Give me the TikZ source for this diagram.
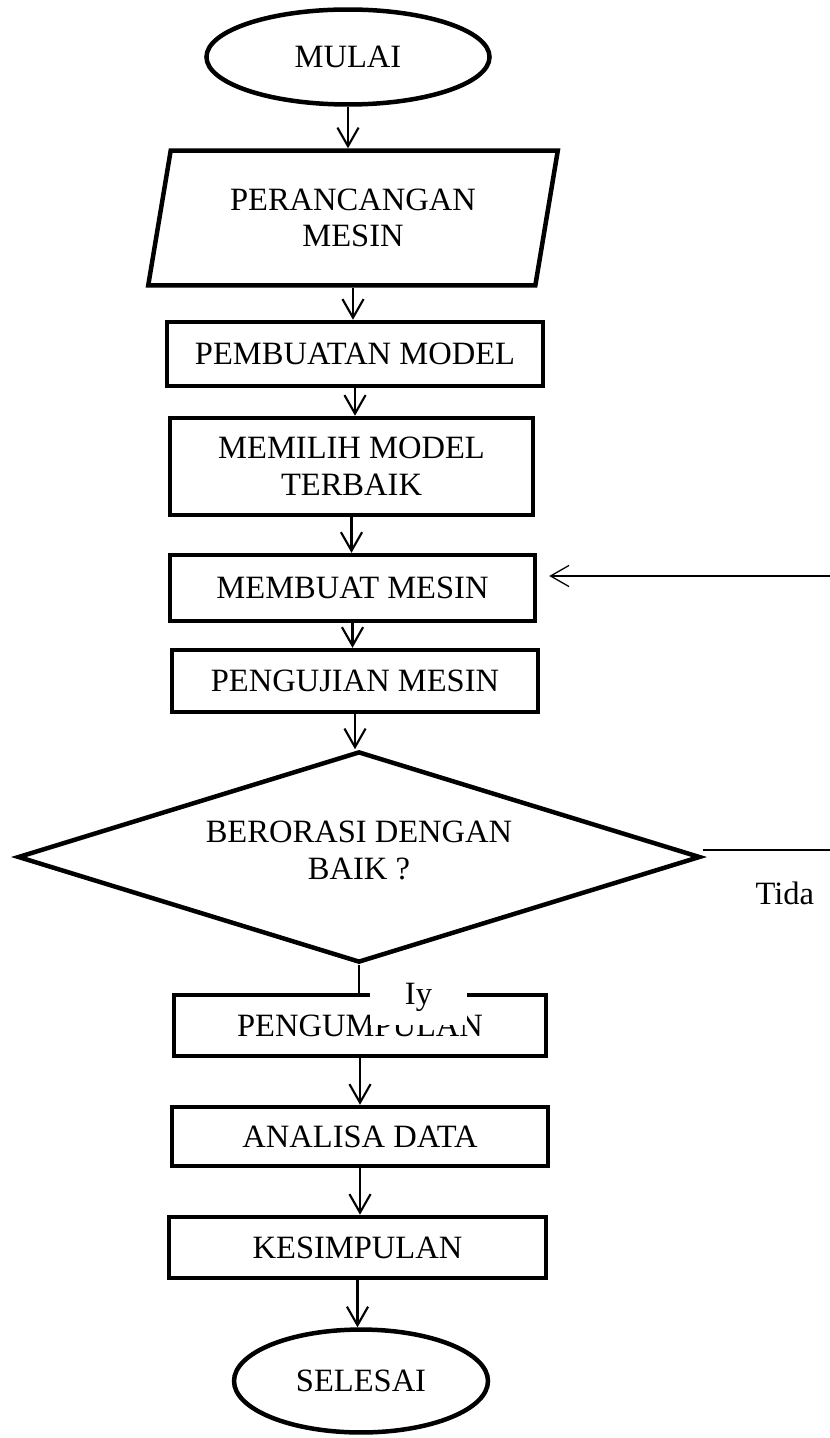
\documentclass[tikz,border=0pt]{standalone}
\usepackage{fontspec}
\setmainfont{Liberation Serif}
\usetikzlibrary{shapes.geometric,arrows.meta}
\begin{document}
\begin{tikzpicture}[
    x=0.378pt, y=-0.378pt,
    font=\fontsize{12.3}{13.9}\selectfont,
    terminal/.style={ellipse, draw, line width=1.7pt, inner sep=0pt},
    inputbox/.style={trapezium, trapezium left angle=75.5, trapezium right angle=104.5,
        trapezium stretches=true, draw, line width=1.7pt, align=center, inner sep=0pt},
    box/.style={rectangle, draw, line width=1.7pt, align=center, inner sep=0pt},
    decision/.style={diamond, aspect=3.23, draw, line width=1.7pt, align=center, inner sep=0pt},
    arrow/.style={-{Straight Barb[length=7pt,width=8pt]}, line width=0.8pt},
    thinline/.style={line width=0.5pt}
]
\useasboundingbox (0,0) rectangle (830,1438);

\node[terminal, minimum width=107pt, minimum height=35.9pt] (mulai) at (348,57) {MULAI};
\node[inputbox, minimum width=155pt, minimum height=51pt] (perancangan) at (353,218) {PERANCANGAN\\MESIN};
\node[box, minimum width=142.1pt, minimum height=24.2pt] (pembuatan) at (355,354) {PEMBUATAN MODEL};
\node[box, minimum width=137.2pt, minimum height=36.7pt] (memilih) at (351.5,466.5) {MEMILIH MODEL\\TERBAIK};
\node[box, minimum width=138pt, minimum height=24.9pt] (membuat) at (352.5,588) {MEMBUAT MESIN};
\node[box, minimum width=138.3pt, minimum height=23.4pt] (pengujian) at (355,681) {PENGUJIAN MESIN};
\node[decision, minimum width=258pt, minimum height=79.8pt] (keputusan) at (359,857) {BERORASI DENGAN\\BAIK ?\\[-9pt]};
\node[box, minimum width=140.6pt, minimum height=23.1pt] (pengumpulan) at (360,1025.5) {PENGUMPULAN};
\node[box, minimum width=142.1pt, minimum height=22.3pt] (analisa) at (360,1136.5) {ANALISA DATA};
\node[box, minimum width=142.5pt, minimum height=23.1pt] (kesimpulan) at (357.5,1247.5) {KESIMPULAN};
\node[terminal, minimum width=96pt, minimum height=38.9pt] (selesai) at (361,1381) {SELESAI};

\coordinate (tkanan) at (830,850);
\coordinate (kembali) at (830,576);

\draw[arrow] (mulai.south) -- (mulai.south |- perancangan.north);
\draw[arrow] (perancangan.south) -- (perancangan.south |- pembuatan.north);
\draw[arrow] (pembuatan.south) -- (pembuatan.south |- memilih.north);
\draw[arrow] (memilih.south) -- (memilih.south |- membuat.north);
\draw[arrow] (membuat.south) -- (membuat.south |- pengujian.north);
\draw[arrow] (pengujian.south) -- (pengujian.south |- keputusan.north);
\draw[line width=0.8pt] (keputusan.south) -- (keputusan.south |- pengumpulan.north);
\draw[arrow] (pengumpulan.south) -- (pengumpulan.south |- analisa.north);
\draw[arrow] (analisa.south) -- (analisa.south |- kesimpulan.north);
\draw[arrow] (kesimpulan.south) -- (kesimpulan.south |- selesai.north);

% jalur kembali jika tidak
\draw[thinline] (keputusan.east |- tkanan) -- (tkanan);
\draw[arrow, thinline, shorten >=4.5pt] (kembali) -- (membuat.east |- kembali);

\node[anchor=west, inner sep=0pt] (tidak) at (755,893) {Tida};
\node[fill=white, inner sep=0pt, minimum width=36.7pt, minimum height=19.5pt, text depth=4pt] (iya) at (418.5,999) {Iy};
\end{tikzpicture}
\end{document}
